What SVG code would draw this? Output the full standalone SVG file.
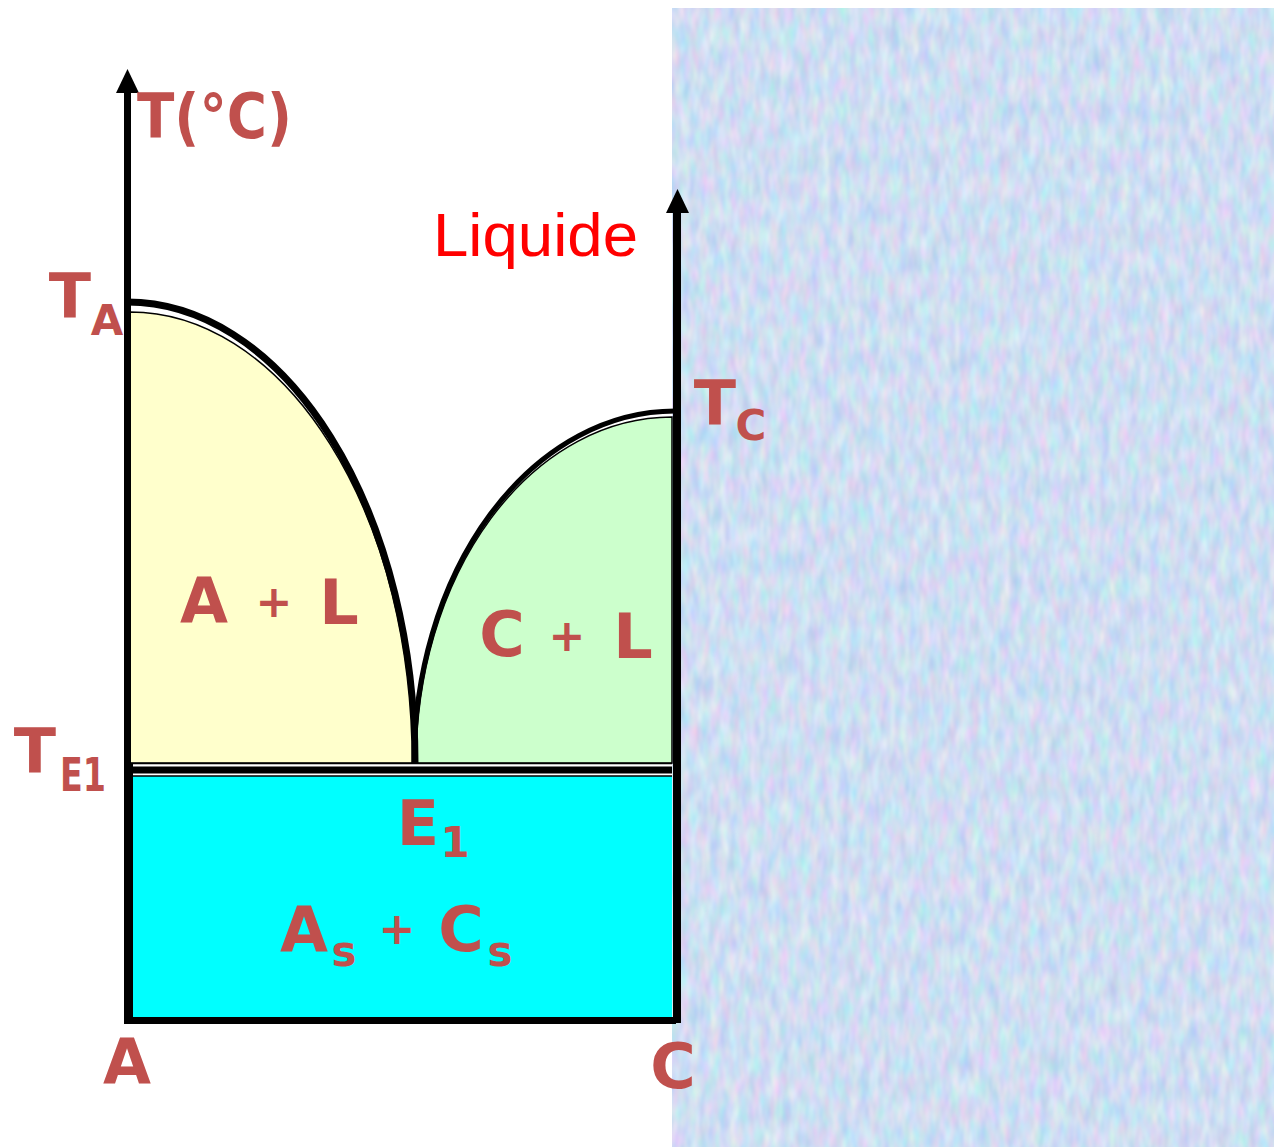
<svg xmlns="http://www.w3.org/2000/svg" width="1274" height="1147" viewBox="0 0 1274 1147">
<style>
.lb{font-family:"DejaVu Sans","Liberation Sans",sans-serif;font-weight:bold;fill:#c0504d}
.big{font-size:62px}
.sub{font-size:42px}
.pl{font-size:44px}
</style>
<defs>
<filter id="tex" x="0" y="0" width="100%" height="100%" color-interpolation-filters="sRGB">
<feTurbulence type="fractalNoise" baseFrequency="0.1 0.04" numOctaves="2" seed="7"/>
<feColorMatrix type="matrix" values="0.30 0 0 0 0.66  0 0.20 0 0 0.77  0 0 0.10 0 0.90  0 0 0 0 1"/>
</filter>
</defs>
<rect width="1274" height="1147" fill="#ffffff"/>
<g id="texture">
<rect x="672" y="8" width="602" height="1139" fill="#cddaf5"/>
<rect x="672" y="8" width="602" height="1139" filter="url(#tex)"/>
</g>
<g id="regions">
<path id="region-A-L" d="M 130 312 A 283 451 0 0 1 413 763 L 130 763 Z" fill="#ffffcc" stroke="#000" stroke-width="1.5"/>
<path id="region-C-L" d="M 672 417 A 256 346 0 0 0 416 763 L 672 763 Z" fill="#ccffcc" stroke="#000" stroke-width="1.5"/>
<rect id="region-solid" x="131" y="776" width="541" height="242" fill="#00ffff"/>
</g>
<g id="connectors" fill="none" stroke="#000">
<path d="M 127 302 A 288 461 0 0 1 415 763" stroke-width="7"/>
<path d="M 675 411 A 261 352 0 0 0 414 763" stroke-width="5"/>
<line x1="130" y1="763.5" x2="672" y2="763.5" stroke-width="1.5"/>
<line x1="130" y1="770" x2="672" y2="770" stroke-width="7"/>
<line x1="130" y1="776" x2="672" y2="776" stroke-width="1.5"/>
<line x1="127.5" y1="88" x2="127.5" y2="1024" stroke-width="7"/>
<line x1="129" y1="763" x2="129" y2="1024" stroke-width="8"/>
<line x1="124" y1="1020.5" x2="676" y2="1020.5" stroke-width="7"/>
<line x1="677" y1="208" x2="677" y2="1023" stroke-width="8"/>
<path d="M 116 93 L 127.5 69 L 139 93 Z" fill="#000" stroke="none"/>
<path d="M 666 213 L 677.5 189 L 689 213 Z" fill="#000" stroke="none"/>
</g>
<g id="axis-labels">
<text id="t-axis" class="lb" x="137" y="138" font-size="63" textLength="155" lengthAdjust="spacingAndGlyphs">T(°C)</text>
<text id="ta" class="lb"><tspan class="big" x="70" y="318" text-anchor="middle">T</tspan><tspan class="sub" x="107" y="335" text-anchor="middle">A</tspan></text>
<text id="tc" class="lb"><tspan class="big" x="715" y="425" text-anchor="middle">T</tspan><tspan class="sub" x="751" y="440" text-anchor="middle">C</tspan></text>
<text id="te1" class="lb"><tspan class="big" x="35" y="773" text-anchor="middle">T</tspan><tspan x="60" y="791" font-size="46" textLength="46" lengthAdjust="spacingAndGlyphs">E1</tspan></text>
<text id="lbl-a" class="lb big" x="127" y="1083" text-anchor="middle">A</text>
<text id="lbl-c" class="lb big" x="673" y="1088" text-anchor="middle">C</text>
</g>
<g id="phase-labels">
<text id="liquide" x="433" y="256" font-family="Liberation Sans, Arial, sans-serif" font-size="62" fill="#ff0000" textLength="205" lengthAdjust="spacingAndGlyphs">Liquide</text>
<text id="al" class="lb" text-anchor="middle"><tspan class="big" x="204" y="622">A</tspan><tspan class="pl" x="274" y="617"> + </tspan><tspan class="big" x="339" y="624">L</tspan></text>
<text id="cl" class="lb" text-anchor="middle"><tspan class="big" x="502" y="656">C</tspan><tspan class="pl" x="567" y="651"> + </tspan><tspan class="big" x="633" y="658">L</tspan></text>
<text id="e1" class="lb" text-anchor="middle"><tspan class="big" x="418" y="845">E</tspan><tspan class="sub" x="455" y="857">1</tspan></text>
<text id="ascs" class="lb" text-anchor="middle"><tspan class="big" x="304" y="951">A</tspan><tspan class="sub" x="344" y="966">s</tspan><tspan class="pl" x="397" y="944"> + </tspan><tspan class="big" x="461" y="951">C</tspan><tspan class="sub" x="500" y="966">s</tspan></text>
</g>
</svg>
